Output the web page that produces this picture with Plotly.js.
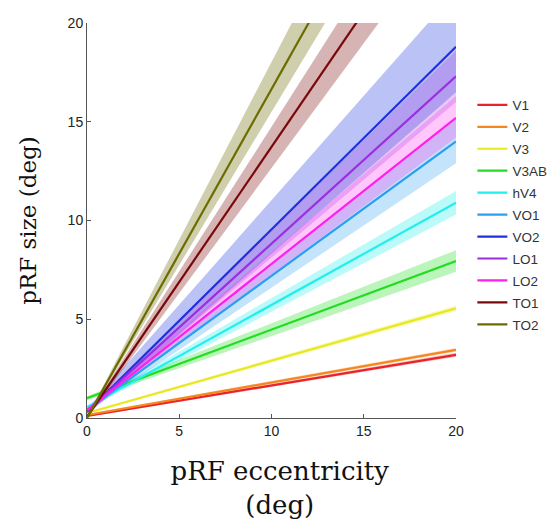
<!DOCTYPE html>
<html><head><meta charset="utf-8">
<script src="https://cdn.plot.ly/plotly-3.0.1.min.js"></script>
<style>html,body{margin:0;padding:0;background:#fff}#plot{width:548px;height:527px}</style>
</head><body><div id="plot"></div>
<script>
// ROI names
const rois = ['V1','V2','V3','V3AB','hV4','VO1','VO2','LO1','LO2','TO1','TO2'];
// eccentricity end points (deg)
const eccX = [0, 20];
// pRF size at ecc 0 and ecc 20 (mean line)
const size0  = [0.10, 0.15, 0.25, 1.00, 0.55, 0.40, 0.30, 0.35, 0.40, 0.05, 0.00];
const size20 = [3.20, 3.45, 5.55, 7.95, 10.9, 14.0, 18.8, 17.3, 15.2, 27.4, 33.3];
// band lower / upper at ecc 0
const lo0 = [0.05, 0.10, 0.20, 0.90, 0.45, 0.30, 0.15, 0.25, 0.30, 0.00, 0.00];
const hi0 = [0.15, 0.20, 0.30, 1.10, 0.65, 0.50, 0.45, 0.45, 0.50, 0.10, 0.05];
// band lower / upper at ecc 20
const lo20 = [3.10, 3.35, 5.40, 7.40, 10.3, 12.9, 16.5, 16.0, 14.2, 25.3, 31.0];
const hi20 = [3.30, 3.55, 5.70, 8.50, 11.5, 15.2, 21.6, 18.6, 16.3, 29.4, 36.0];
// colours
const lineColors = ['#e8242a','#f5871f','#e8e820','#22dd22','#22eeee','#2a9ff0','#2030dd','#9a2ee0','#ff20ee','#7a0808','#6b6b00'];
const bandColors = ['rgba(232,36,42,0.3)','rgba(245,135,31,0.3)','rgba(232,232,32,0.3)','rgba(34,221,34,0.3)','rgba(34,238,238,0.3)','rgba(42,159,240,0.28)','rgba(60,80,230,0.35)','rgba(154,46,224,0.25)','rgba(255,32,238,0.25)','rgba(122,8,8,0.3)','rgba(107,107,0,0.32)'];

const traces = [];
rois.forEach((r,i)=>{
  traces.push({x:eccX, y:[lo0[i],lo20[i]], mode:'lines', line:{width:0,color:bandColors[i]}, showlegend:false, hoverinfo:'skip'});
  traces.push({x:eccX, y:[hi0[i],hi20[i]], mode:'lines', line:{width:0,color:bandColors[i]}, fill:'tonexty', fillcolor:bandColors[i], showlegend:false, hoverinfo:'skip'});
});
rois.forEach((r,i)=>{
  traces.push({x:eccX, y:[size0[i],size20[i]], mode:'lines', name:r, legendgroup:r, line:{width:2.2,color:lineColors[i]}});
});

const pad = '&nbsp;&nbsp;';
const layout = {
  width:548, height:527,
  margin:{l:87, r:92, t:23, b:109, autoexpand:false},
  paper_bgcolor:'#fff', plot_bgcolor:'#fff',
  showlegend:true,
  legend:{xref:'container', yref:'container', x:0.862, y:0.83, xanchor:'left', yanchor:'top', traceorder:'grouped',
    font:{family:'Liberation Sans, Arial, sans-serif', size:13.5, color:'#333'}, itemwidth:30, tracegroupgap:1.4, bgcolor:'rgba(0,0,0,0)'},
  xaxis:{range:[0,20], tickvals:[0,5,10,15,20], showgrid:false, zeroline:false, showline:true, linecolor:'#555', linewidth:1, ticks:'inside', ticklen:4, tickcolor:'#555',
    tickfont:{family:'Liberation Sans, Arial, sans-serif', size:14, color:'#222'},
    title:{text:pad+'pRF eccentricity<br>'+pad+'(deg)', font:{family:'DejaVu Serif, serif', size:26, color:'#111'}, standoff:24}},
  yaxis:{range:[0,20], tickvals:[0,5,10,15,20], showgrid:false, zeroline:false, showline:true, linecolor:'#555', linewidth:1, ticks:'inside', ticklen:4, tickcolor:'#555',
    tickfont:{family:'Liberation Sans, Arial, sans-serif', size:14, color:'#222'},
    title:{text:'pRF size (deg)', font:{family:'DejaVu Serif, serif', size:23, color:'#111'}, standoff:24}}
};
Plotly.newPlot('plot', traces, layout, {displayModeBar:false});
</script></body></html>
